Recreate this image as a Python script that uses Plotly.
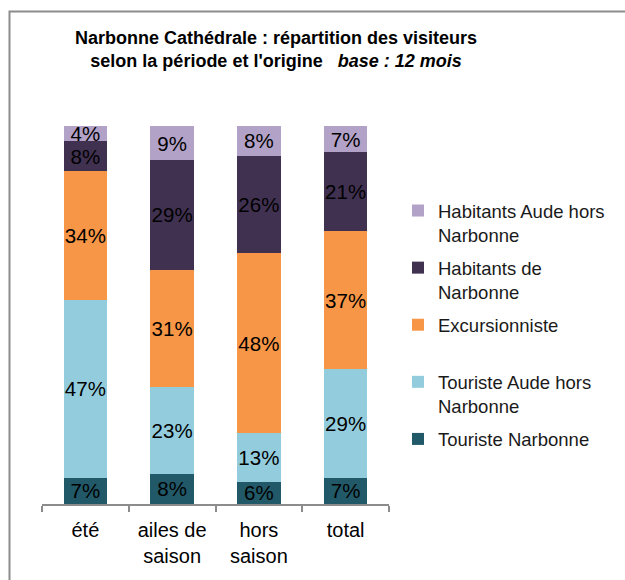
import plotly.graph_objects as go

categories = ["été", "ailes de<br>saison", "hors<br>saison", "total"]
series_names = [
    "Touriste Narbonne",
    "Touriste Aude hors<br>Narbonne",
    "Excursionniste",
    "Habitants de<br>Narbonne",
    "Habitants Aude hors<br>Narbonne",
]
touriste_narbonne = [7, 8, 6, 7]
touriste_aude = [47, 23, 13, 29]
excursionniste = [34, 31, 48, 37]
habitants_narbonne = [8, 29, 26, 21]
habitants_aude = [4, 9, 8, 7]
colors = ["#215968", "#93CDDD", "#F79646", "#403151", "#B3A2C7"]

values = [touriste_narbonne, touriste_aude, excursionniste, habitants_narbonne, habitants_aude]
legend_labels = [
    "Touriste Narbonne<br> ",
    "Touriste Aude hors<br>Narbonne",
    "Excursionniste<br> ",
    "Habitants de<br>Narbonne",
    "Habitants Aude hors<br>Narbonne",
]

FONT = "Liberation Sans, Arial, sans-serif"
fig = go.Figure()
n = len(values)
for i, (name, vals, col) in enumerate(zip(legend_labels, values, colors)):
    fig.add_trace(go.Bar(
        x=categories, y=vals, name=name,
        marker=dict(color=col, line=dict(width=0)),
        text=[f"{v}%" for v in vals],
        textposition="inside", insidetextanchor="middle", textangle=0,
        constraintext="none",
        textfont=dict(family=FONT, size=20.5, color="#000000"),
        legendgroup=f"g{i}",
        legendrank=n - i,
        hoverinfo="skip",
    ))

W, H = 625, 580
L, R, T, B = 42, 625 - 389, 126, 580 - 504
pw, ph = W - L - R, H - T - B

def px(x):
    return (x - L) / pw

def py(y):
    return (H - B - y) / ph

fig.update_layout(
    width=W, height=H,
    margin=dict(l=L, r=R, t=T, b=B),
    barmode="stack", barnorm="percent", bargap=0.5,
    paper_bgcolor="white", plot_bgcolor="white",
    font=dict(family=FONT, color="#000000"),
    showlegend=True,
    legend=dict(
        traceorder="grouped", tracegroupgap=6, valign="top",
        x=px(398), y=py(192), xanchor="left", yanchor="top",
        font=dict(family=FONT, size=18.5, color="#1a1a1a"),
        bgcolor="rgba(0,0,0,0)",
    ),
    xaxis=dict(
        showline=True, linecolor="#8c8c8c", linewidth=1.5,
        ticks="outside", tickson="boundaries", ticklen=6, tickcolor="#8c8c8c", tickwidth=1.5,
        tickfont=dict(family=FONT, size=20, color="#000000"),
        ticklabelstandoff=7,
        showgrid=False, zeroline=False,
    ),
    yaxis=dict(range=[0, 100], visible=False, showgrid=False, zeroline=False),
    shapes=[dict(
        type="rect", xref="paper", yref="paper",
        x0=px(9.5), x1=px(640), y0=py(600), y1=py(11.5),
        line=dict(color="#8c8c8c", width=2), fillcolor="rgba(0,0,0,0)", layer="below",
    )],
    annotations=[dict(
        xref="paper", yref="paper", x=px(276), y=py(50),
        xanchor="center", yanchor="middle", showarrow=False,
        text="<b>Narbonne Cathédrale : répartition des visiteurs<br>selon la période et l'origine</b>   <b><i>base : 12 mois</i></b>",
        font=dict(family=FONT, size=18, color="#000000"),
        align="center",
    )],
)

fig.write_html(
    "out.html",
    config={"displayModeBar": False},
    post_script="document.body.style.margin='0';document.body.style.overflow='hidden';",
)
